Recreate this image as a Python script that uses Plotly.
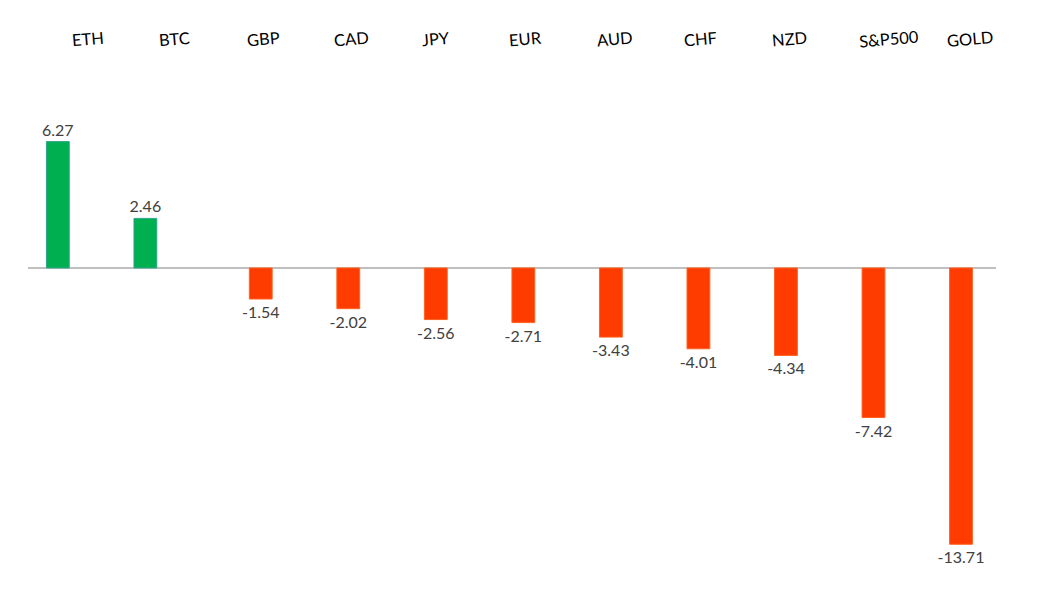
import plotly.graph_objects as go

categories = ["ETH", "BTC", "GBP", "CAD", "JPY", "EUR", "AUD", "CHF", "NZD", "S&P500", "GOLD"]
values = [6.27, 2.46, -1.54, -2.02, -2.56, -2.71, -3.43, -4.01, -4.34, -7.42, -13.71]

pos_vals = [v if v > 0 else None for v in values]
neg_vals = [v if v < 0 else None for v in values]

label_font = dict(family="Lato, Open Sans, sans-serif", size=16, color="#404040")

fig = go.Figure()
fig.add_trace(go.Bar(
    x=categories, y=pos_vals, name="up",
    marker=dict(color="#00B050", line=dict(color="#2EA58C", width=1)),
    texttemplate="%{y:.2f}", textposition="outside", constraintext="none",
    textfont=label_font, cliponaxis=False,
))
fig.add_trace(go.Bar(
    x=categories, y=neg_vals, name="down",
    marker=dict(color="#FF3C00", line=dict(color="#FF6320", width=1)),
    texttemplate="%{y:.2f}", textposition="outside", constraintext="none",
    textfont=label_font, cliponaxis=False,
))

for c in categories:
    fig.add_annotation(
        x=c, xref="x", y=1.0 + 21 / 526, yref="paper", xshift=-3,
        text=c, showarrow=False, xanchor="left", yanchor="middle",
        textangle=-5,
        font=dict(family="Lato, Open Sans, sans-serif", size=16.5, color="#000000"),
    )

fig.update_layout(
    width=1044, height=588,
    margin=dict(l=20, r=56, t=52, b=10, autoexpand=False),
    paper_bgcolor="white", plot_bgcolor="white",
    barmode="group", bargap=0.364, bargroupgap=0.18,
    showlegend=False,
    xaxis=dict(showgrid=False, showline=False, ticks="", showticklabels=False, automargin=False),
    yaxis=dict(range=[-15.78, 10.32], showgrid=False, showticklabels=False, showline=False,
               zeroline=True, zerolinecolor="#BFBFBF", zerolinewidth=2, ticks="", automargin=False),
)

fig.write_html("out.html")
